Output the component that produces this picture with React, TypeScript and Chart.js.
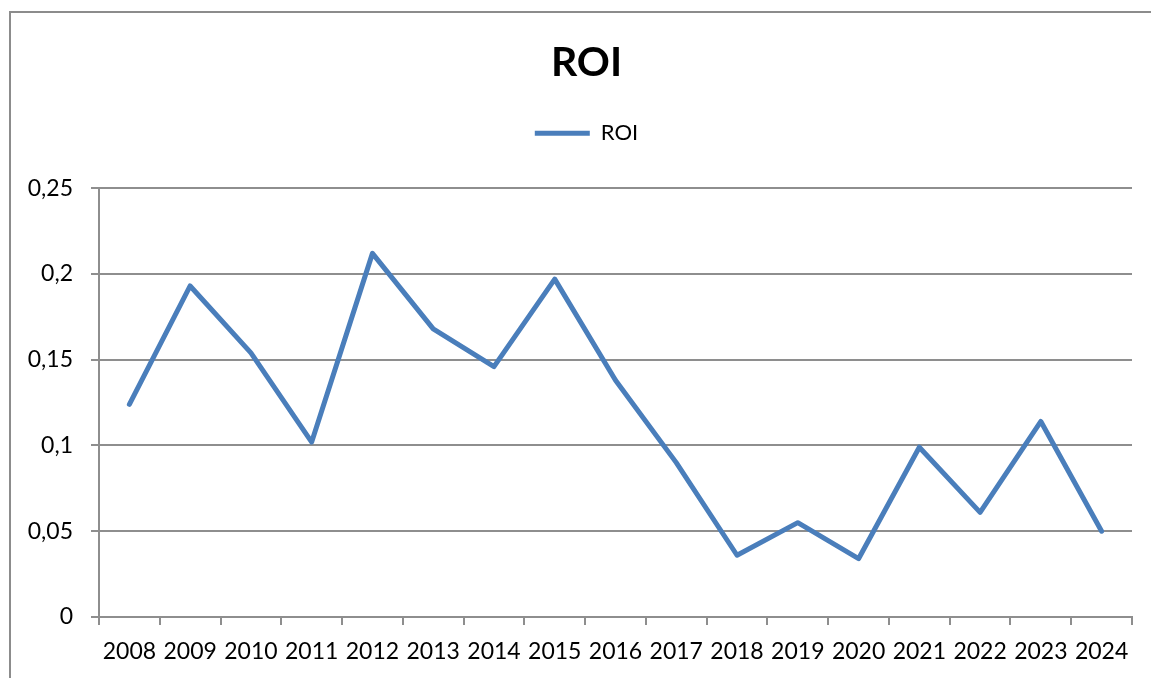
import React, { useEffect, useRef } from 'react';
import { Chart, registerables, layouts } from 'chart.js';

Chart.register(...registerables);

const years = ['2008', '2009', '2010', '2011', '2012', '2013', '2014', '2015', '2016', '2017', '2018', '2019', '2020', '2021', '2022', '2023', '2024'];
const roiValues = [0.124, 0.193, 0.154, 0.102, 0.212, 0.168, 0.146, 0.197, 0.138, 0.090, 0.036, 0.055, 0.034, 0.099, 0.061, 0.114, 0.050];
const yTickValues = [0, 0.05, 0.1, 0.15, 0.2, 0.25];
const chartTitle = 'ROI';
const seriesName = 'ROI';

const FONT = 'Lato, "Open Sans", sans-serif';
const GRID = '#8e8e8e';

const formatTick = (v: number) => {
  let best = yTickValues[0];
  for (const t of yTickValues) if (Math.abs(t - v) < Math.abs(best - v)) best = t;
  return String(best).replace('.', ',');
};

const makeSpacer = (position: string, size: number, fullSize: boolean) => {
  const horizontal = position === 'top' || position === 'bottom';
  return {
    position,
    weight: 0,
    fullSize,
    options: { stackWeight: 1 },
    top: 0, left: 0, right: 0, bottom: 0, width: 0, height: 0,
    isHorizontal() { return horizontal; },
    update(maxWidth: number, maxHeight: number) {
      if (horizontal) {
        this.width = maxWidth;
        this.height = size;
      } else {
        this.width = size;
        this.height = maxHeight;
      }
    },
    getPadding() { return { top: 0, left: 0, right: 0, bottom: 0 }; },
    draw() {},
  } as any;
};

const spacerPlugin = {
  id: 'layoutSpacers',
  beforeInit(chart: any) {
    layouts.addBox(chart, makeSpacer('top', 34, true));
    layouts.addBox(chart, makeSpacer('right', 19, false));
  },
};

export default function App() {
  const ref = useRef<HTMLCanvasElement | null>(null);

  useEffect(() => {
    if (!ref.current) return;
    const chart = new Chart(ref.current, {
      type: 'line',
      data: {
        labels: years,
        datasets: [
          {
            label: seriesName,
            data: roiValues,
            borderColor: '#4a7ebb',
            backgroundColor: '#4a7ebb',
            borderWidth: 5,
            pointRadius: 0,
            pointHoverRadius: 0,
            tension: 0,
            borderCapStyle: 'round',
            borderJoinStyle: 'round',
            fill: false,
          },
        ],
      },
      plugins: [spacerPlugin],
      options: {
        responsive: false,
        animation: false,
        devicePixelRatio: 1,
        layout: { padding: { left: 22, right: 0, top: 0, bottom: 0 } },
        font: { family: FONT },
        plugins: {
          title: {
            display: true,
            text: chartTitle,
            color: '#000',
            font: { family: FONT, size: 41, weight: 'bold' },
            padding: { top: 38, bottom: 25 },
          },
          legend: {
            display: true,
            position: 'top',
            labels: {
              color: '#000',
              font: { family: FONT, size: 22 },
              usePointStyle: true,
              pointStyle: 'line',
              pointStyleWidth: 55,
              padding: 10,
            },
          },
          tooltip: { enabled: false },
        },
        scales: {
          x: {
            type: 'category',
            offset: true,
            grid: {
              display: true,
              offset: true,
              drawOnChartArea: false,
              drawTicks: true,
              tickLength: 8,
              color: GRID,
              lineWidth: 2,
            },
            border: { display: true, color: GRID, width: 2 },
            ticks: {
              color: '#000',
              font: { family: FONT, size: 23 },
              padding: 13,
              maxRotation: 0,
              autoSkip: false,
            },
            afterFit: (s: any) => { s.height = 61; },
          },
          y: {
            type: 'linear',
            min: 0,
            max: 0.25,
            grid: {
              color: GRID,
              lineWidth: 2,
              drawTicks: true,
              tickLength: 8,
            },
            border: { display: true, color: GRID, width: 2 },
            ticks: {
              stepSize: 0.05,
              color: '#000',
              font: { family: FONT, size: 23 },
              padding: 18,
              callback: (v: any) => formatTick(Number(v)),
            },
            afterFit: (s: any) => { s.width = 77; },
          },
        },
      },
    } as any);
    return () => chart.destroy();
  }, []);

  return (
    <div style={{ position: 'absolute', left: 0, top: 0, width: 1151, height: 678, background: '#fff', overflow: 'hidden' }}>
      <div
        style={{
          position: 'absolute',
          left: 9,
          top: 11,
          width: 1160,
          height: 700,
          borderLeft: '2px solid #8c8c8c',
          borderTop: '2px solid #8c8c8c',
        }}
      />
      <canvas ref={ref} width={1151} height={678} style={{ position: 'absolute', left: 0, top: 0, display: 'block' }} />
    </div>
  );
}
